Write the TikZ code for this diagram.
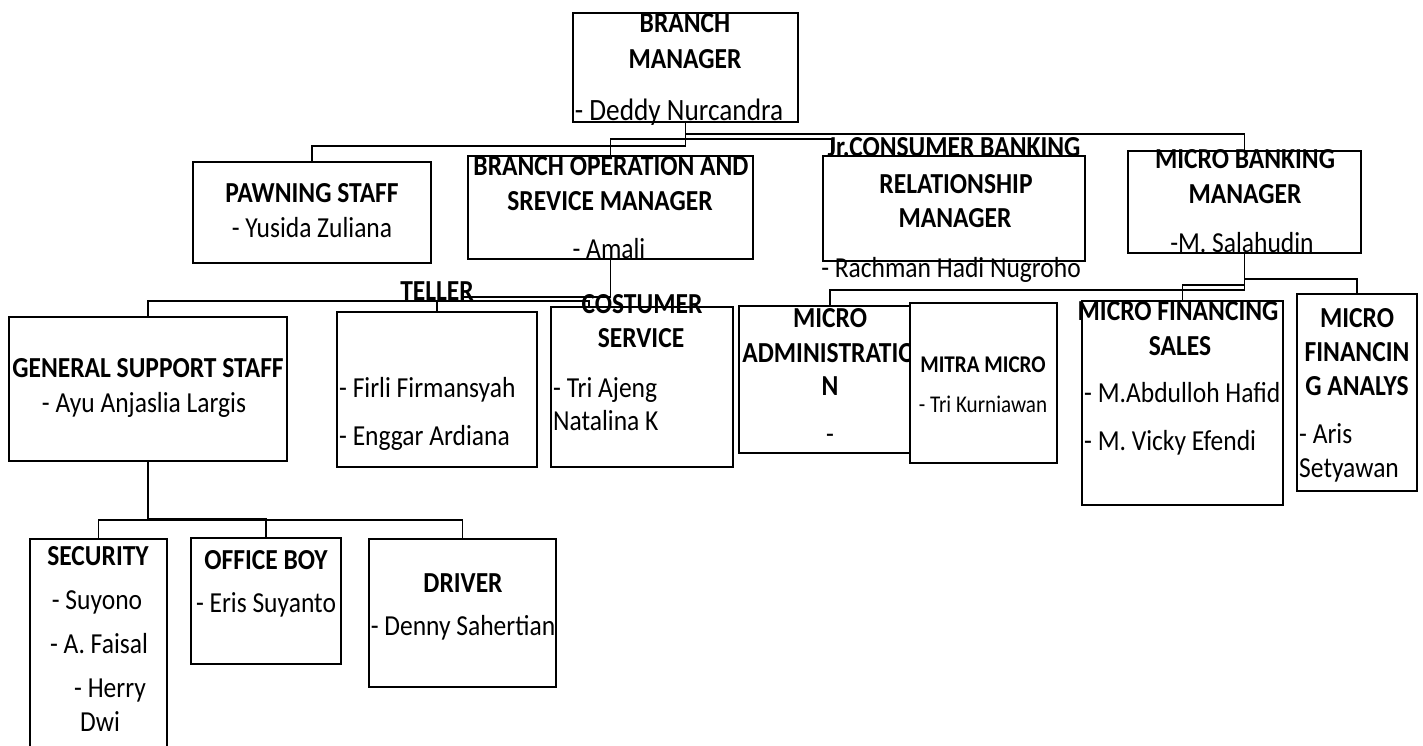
\documentclass[tikz,border=0pt]{standalone}
\usepackage{fontspec}
\setmainfont{Carlito}[FakeStretch=0.88]
\usetikzlibrary{calc}
\newcommand\chartfs{\fontsize{29pt}{35pt}\selectfont}
\newcommand\smallfs{\fontsize{24pt}{29pt}\selectfont}
\tikzset{
  box/.style={draw, line width=2pt, inner sep=0pt},
  conn/.style={line width=1.8pt},
  ttl/.style={anchor=base, inner sep=0pt, font=\chartfs\bfseries},
  nm/.style={anchor=base, inner sep=0pt, font=\chartfs},
  nml/.style={anchor=base west, inner sep=0pt, font=\chartfs},
}
\begin{document}
\begin{tikzpicture}[x=1pt,y=-1pt]
\useasboundingbox (0,0) rectangle (1423,745);
% ---------- boxes ----------
\node[box, minimum width=225pt, minimum height=109pt] (bm) at (685.5,67.5) {};
\node[box, minimum width=238pt, minimum height=101pt] (ps) at (312,212.5) {};
\node[box, minimum width=285pt, minimum height=103pt] (bosm) at (610.5,207.5) {};
\node[box, minimum width=262pt, minimum height=105pt] (jr) at (954,208.5) {};
\node[box, minimum width=233pt, minimum height=102pt] (mbm) at (1244.5,202) {};
\node[box, minimum width=278pt, minimum height=144pt] (gss) at (148,389) {};
\node[box, minimum width=200pt, minimum height=155pt] (tel) at (437,389.5) {};
\node[box, minimum width=182pt, minimum height=160pt] (cs) at (642,387) {};
\node[box, minimum width=171pt, minimum height=147pt] (ma) at (824.5,379.5) {};
\node[box, minimum width=201pt, minimum height=204pt] (mf) at (1182.5,403) {};
\node[box, minimum width=120pt, minimum height=197pt] (mfa) at (1357,392.5) {};
\node[box, minimum width=137pt, minimum height=221pt] (sec) at (98.5,649.5) {};
\node[box, minimum width=150pt, minimum height=126pt] (ob) at (266,601) {};
\node[box, minimum width=187pt, minimum height=148pt] (drv) at (462.5,613) {};
% ---------- named connector ends ----------
\coordinate (jrc) at ($(jr.north west)+(10,0)$);
\coordinate (csc) at ($(cs.north west)+(39,0)$);
\coordinate (mac) at ($(ma.north)+(5.5,0)$);
% ---------- connectors ----------
\draw[conn] (bm.south) -- ++(0,23) -| (ps.north);
\draw[conn] (bm.south) ++(0,11) -| (mbm.north);
\draw[conn] (bosm.north) -- ++(0,-16) -| (jrc);
\draw[conn] (bosm.south) -- ++(0,37) -- ++(-148,0);
\draw[conn] (gss.north) -- ++(0,-15) -| (csc);
\draw[conn] (tel.north) -- ++(0,-10);
\draw[conn] (mbm.south) -- ++(0,36) -| (mac);
\draw[conn] (mbm.south) ++(0,25) -| (mfa.north);
\draw[conn] (mbm.south) ++(0,31) -| (mf.north);
\draw[conn] (gss.south) -- ++(0,57) -| (ob.north);
\draw[conn] (sec.north) -- ++(0,-18) -| (drv.north);
% ---------- texts ----------
\node[ttl] (bm1) at (685,32) {BRANCH};
\node[ttl] (bm2) at (685,68) {MANAGER};
\node[nm, font=\fontsize{31pt}{37pt}\selectfont] (bm3) at (679,120) {- Deddy Nurcandra};
\node[ttl] (ps1) at (312,202) {PAWNING STAFF};
\node[nm] (ps2) at (312,237) {- Yusida Zuliana};
\node[ttl] (bo1) at (611,175) {BRANCH OPERATION AND};
\node[ttl] (bo2) at (610,210) {SREVICE MANAGER};
\node[nm] (bo3) at (609,258) {- Amali};
\node[ttl] (jr1) at (954,156) {Jr.CONSUMER BANKING};
\node[ttl] (jr2) at (956,193) {RELATIONSHIP};
\node[ttl] (jr3) at (955,227) {MANAGER};
\node[nm] (jr4) at (951,277) {- Rachman Hadi Nugroho};
\node[ttl] (mb1) at (1245,168) {MICRO BANKING};
\node[ttl] (mb2) at (1245,203) {MANAGER};
\node[nm] (mb3) at (1242,252) {-M. Salahudin};
\node[ttl] (gs1) at (148,377) {GENERAL SUPPORT STAFF};
\node[nm] (gs2) at (144,412) {- Ayu Anjaslia Largis};
\node[ttl] (te1) at (437,300) {TELLER};
\node[nml] (te2) at (339,397) {- Firli Firmansyah};
\node[nml] (te3) at (339,445) {- Enggar Ardiana};
\node[ttl] (cs1) at (642,313) {COSTUMER};
\node[ttl] (cs2) at (641,347) {SERVICE};
\node[nml] (cs3) at (553,397) {- Tri Ajeng};
\node[nml] (cs4) at (553,430) {Natalina K};
\node[ttl] (ma1) at (830,327) {MICRO};
\node[ttl] (ma2) at (829,362) {ADMINISTRATIO};
\node[ttl] (ma3) at (830,395) {N};
\node[nm] (ma4) at (830,443) {-};
% Mitra box drawn after MA text so it hides the overflow
\node[box, fill=white, minimum width=147pt, minimum height=160pt] (mit) at (983.5,383) {};
\node[ttl, font=\smallfs\bfseries] (mi1) at (983,372) {MITRA MICRO};
\node[nm, font=\smallfs] (mi2) at (983,412) {- Tri Kurniawan};
\node[ttl] (mf1) at (1178,320) {MICRO FINANCING};
\node[ttl] (mf2) at (1180,355) {SALES};
\node[nml] (mf3) at (1084,402) {- M.Abdulloh Hafid};
\node[nml] (mf4) at (1084,450) {- M. Vicky Efendi};
\node[ttl] (fa1) at (1357,327) {MICRO};
\node[ttl] (fa2) at (1357,361) {FINANCIN};
\node[ttl] (fa3) at (1357,395) {G ANALYS};
\node[nml] (fa4) at (1299,443) {- Aris};
\node[nml] (fa5) at (1299,477) {Setyawan};
\node[ttl] (se1) at (98,565) {SECURITY};
\node[nm] (se2) at (97,609) {- Suyono};
\node[nm] (se3) at (99,653) {- A. Faisal};
\node[nm] (se4) at (110,697) {- Herry};
\node[nml] (se5) at (80,731) {Dwi};
\node[ttl] (ob1) at (266,569) {OFFICE BOY};
\node[nm] (ob2) at (266,612) {- Eris Suyanto};
\node[ttl] (dr1) at (463,592) {DRIVER};
\node[nm] (dr2) at (463,635) {- Denny Sahertian};
\end{tikzpicture}
\end{document}
